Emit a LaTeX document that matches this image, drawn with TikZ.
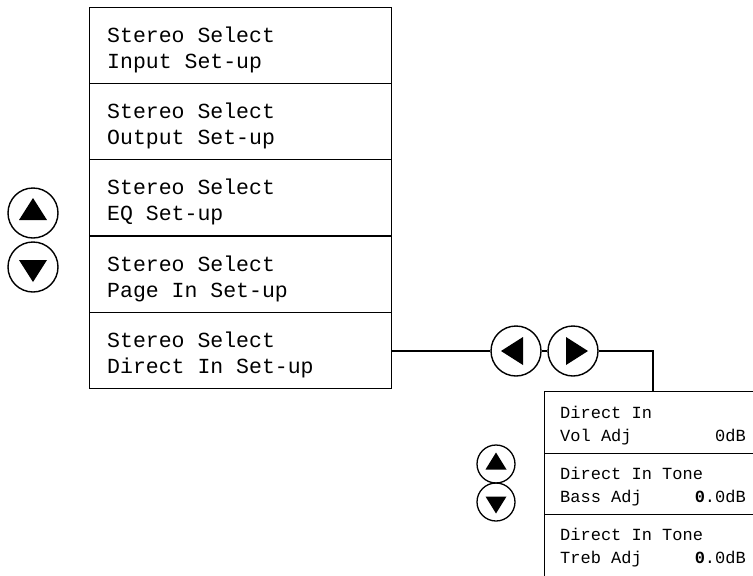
\documentclass[tikz,border=0pt]{standalone}
\usepackage{fontspec}
\setmonofont{Liberation Mono}
\begin{document}
\begin{tikzpicture}[x=1pt,y=-1pt,
  menubox/.style={draw,line width=1.3pt,rectangle,minimum width=302pt,minimum height=76pt,inner sep=0,anchor=north west},
  subbox/.style={draw,line width=1.3pt,rectangle,minimum width=208.5pt,minimum height=61.5pt,inner sep=0,anchor=north west},
  bigtxt/.style={anchor=base west,inner sep=0,font=\ttfamily\fontsize{21.5}{24}\selectfont},
  smalltxt/.style={anchor=base west,inner sep=0,font=\ttfamily\fontsize{17}{20}\selectfont},
  smallval/.style={anchor=base east,inner sep=0,font=\ttfamily\fontsize{17}{20}\selectfont},
  btn/.style={draw,line width=1.4pt,circle,minimum size=50pt,inner sep=0},
  sbtn/.style={draw,line width=1.3pt,circle,minimum size=38pt,inner sep=0},
  wire/.style={line width=1.3pt}]
\useasboundingbox (0,0) rectangle (753,576);
% main menu boxes
\node[menubox] (b1) at (89,7) {};
\node[menubox] (b2) at (89,83) {};
\node[menubox] (b3) at (89,159) {};
\node[menubox] (b4) at (89,236) {};
\node[menubox] (b5) at (89,312) {};
\node[bigtxt] (t1a) at (107,42) {Stereo Select};
\node[bigtxt] (t1b) at (107,68) {Input Set-up};
\node[bigtxt] (t2a) at (107,118) {Stereo Select};
\node[bigtxt] (t2b) at (107,144) {Output Set-up};
\node[bigtxt] (t3a) at (107,194) {Stereo Select};
\node[bigtxt] (t3b) at (107,220) {EQ Set-up};
\node[bigtxt] (t4a) at (107,271) {Stereo Select};
\node[bigtxt] (t4b) at (107,297) {Page In Set-up};
\node[bigtxt] (t5a) at (107,347) {Stereo Select};
\node[bigtxt] (t5b) at (107,373) {Direct In Set-up};
% left up/down buttons
\node[btn] (up1) at (33,213) {};
\node[btn] (dn1) at (33,267) {};
\fill ([shift={(-14,7)}]up1.center) -- ([shift={(14,7)}]up1.center) -- ([shift={(0,-15)}]up1.center) -- cycle;
\fill ([shift={(-14,-7)}]dn1.center) -- ([shift={(14,-7)}]dn1.center) -- ([shift={(0,15)}]dn1.center) -- cycle;
% left/right buttons
\node[btn] (lt) at (516,351) {};
\node[btn] (rt) at (573,351) {};
\fill ([shift={(7,-14)}]lt.center) -- ([shift={(7,14)}]lt.center) -- ([shift={(-15,0)}]lt.center) -- cycle;
\fill ([shift={(-7,-14)}]rt.center) -- ([shift={(-7,14)}]rt.center) -- ([shift={(15,0)}]rt.center) -- cycle;
% sub menu boxes
\node[subbox] (r1) at (544,391) {};
\node[subbox] (r2) at (544,452.5) {};
\node[subbox] (r3) at (544,514) {};
\node[smalltxt] (s1a) at (560,418) {Direct In};
\node[smalltxt] (s1b) at (560,441) {Vol Adj};
\node[smallval] (v1) at (746,441) {0dB};
\node[smalltxt] (s2a) at (560,479) {Direct In Tone};
\node[smalltxt] (s2b) at (560,502) {Bass Adj};
\node[smallval] (v2) at (746,502) {\textbf{0}.0dB};
\node[smalltxt] (s3a) at (560,540) {Direct In Tone};
\node[smalltxt] (s3b) at (560,563) {Treb Adj};
\node[smallval] (v3) at (746,563) {\textbf{0}.0dB};
% small up/down buttons
\node[sbtn] (up2) at (496,464) {};
\node[sbtn] (dn2) at (496,502) {};
\fill ([shift={(-10.5,5.5)}]up2.center) -- ([shift={(10.5,5.5)}]up2.center) -- ([shift={(0,-11.5)}]up2.center) -- cycle;
\fill ([shift={(-10.5,-5.5)}]dn2.center) -- ([shift={(10.5,-5.5)}]dn2.center) -- ([shift={(0,11.5)}]dn2.center) -- cycle;
% connectors
\coordinate (drop) at (653,391);
\draw[wire] (b5.east |- lt.west) -- (lt.west);
\draw[wire] (lt.east) -- (rt.west);
\draw[wire] (rt.east) -| (drop);
\end{tikzpicture}
\end{document}
